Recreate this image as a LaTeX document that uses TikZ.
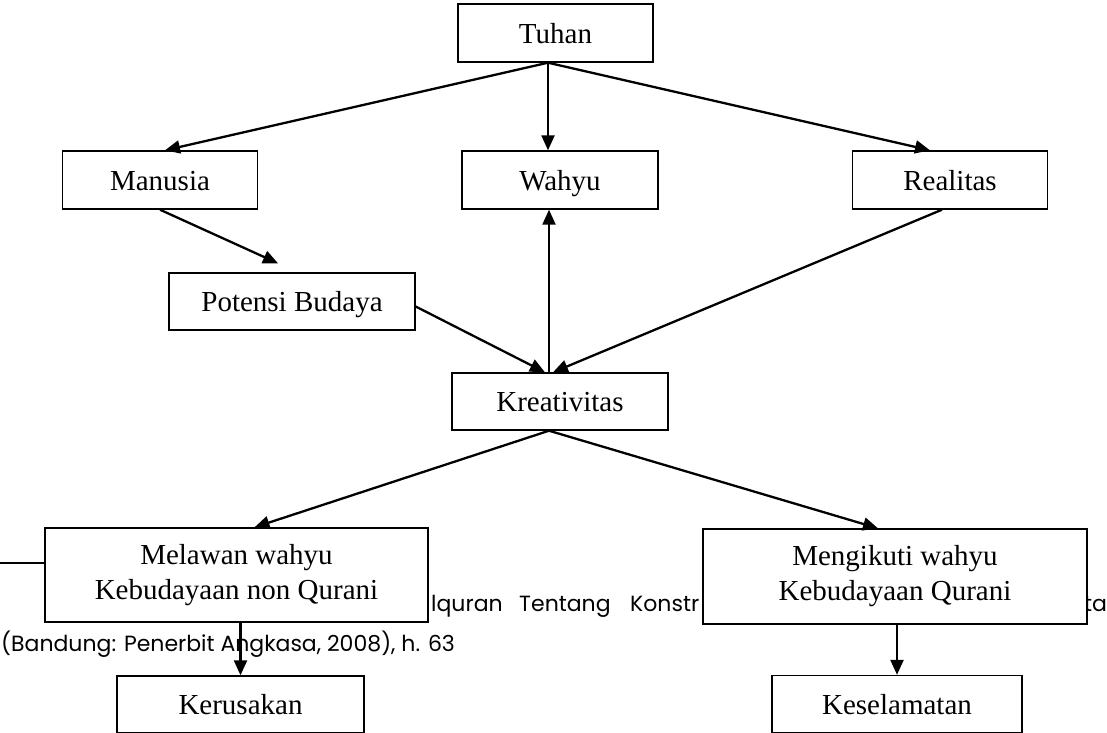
\documentclass[tikz,border=0pt]{standalone}
\usepackage{fontspec}
\setmainfont{Liberation Serif}
\newfontfamily\notefont{Poppins}
\usetikzlibrary{arrows.meta}
\begin{document}
\begin{tikzpicture}[x=1pt,y=-1pt,
  box/.style={draw,line width=1.4pt,fill=white,inner sep=0pt,align=center,
    font=\fontsize{29}{35}\selectfont},
  oneline/.style={box,text height=20pt,text depth=0pt},
  arr/.style={line width=2.3pt,-{Triangle[length=15pt,width=13pt]}},
  note/.style={font=\notefont\fontsize{22}{26}\selectfont,inner sep=0pt}]
\useasboundingbox (0,0) rectangle (1107,732);
\clip (0,0) rectangle (1107,732);

% footnote lying underneath the lower boxes
\draw[line width=1.2pt] (0,563) -- (46,563);
\node[note,anchor=base west] (n1) at (431,611) {lquran};
\node[note,anchor=base west] (n2) at (519,611) {Tentang};
\node[note,anchor=base west] (n3) at (630,611) {Konstr};
\node[note,anchor=base west] (n4) at (1084,611) {ta};
\node[note,anchor=base west] (n5) at (1,651) {(Bandung: Penerbit Angkasa, 2008), h. 63};

% boxes
\node[oneline,minimum width=195pt,minimum height=58pt] (tuhan) at (555.5,33) {Tuhan};
\node[oneline,minimum width=195pt,minimum height=58pt] (manusia) at (160,180) {Manusia};
\node[oneline,minimum width=196pt,minimum height=58pt] (wahyu) at (560,180) {Wahyu};
\node[oneline,minimum width=195pt,minimum height=58pt] (realitas) at (950,180) {Realitas};
\node[oneline,minimum width=246pt,minimum height=57pt] (potensi) at (292,301.5) {Potensi Budaya};
\node[oneline,minimum width=216pt,minimum height=57pt] (kreativitas) at (560,401.5) {Kreativitas};
\node[box,minimum width=383pt,minimum height=94pt] (melawan) at (236.5,575) {Melawan wahyu\\Kebudayaan non Qurani};
\node[box,minimum width=384pt,minimum height=95pt] (mengikuti) at (895,576.5) {Mengikuti wahyu\\Kebudayaan Qurani};
\node[oneline,minimum width=247pt,minimum height=57pt] (kerusakan) at (240.5,704.5) {Kerusakan};
\node[oneline,minimum width=250pt,minimum height=57pt] (keselamatan) at (897,704) {Keselamatan};

% connectors
\coordinate (top) at ([xshift=-7.5pt]tuhan.south);
\coordinate (kre) at ([xshift=-11pt]kreativitas.south);
\coordinate (pot) at ([shift={(-14pt,9pt)}]potensi.north);
\draw[arr] (top) -- ([xshift=5pt]manusia.north);
\draw[arr] (top) -- (top |- wahyu.north);
\draw[arr] (top) -- ([xshift=-20pt]realitas.north);
\draw[arr] (manusia.south) -- (pot);
\draw[arr] ([yshift=-5pt]potensi.east) -- ([xshift=-15pt]kreativitas.north);
\draw[arr] ([xshift=-8pt]realitas.south) -- ([xshift=-7pt]kreativitas.north);
\draw[arr] ([xshift=-11pt]kreativitas.north) -- ([xshift=-11pt]wahyu.south);
\draw[arr] (kre) -- ([xshift=18pt]melawan.north);
\draw[arr] (kre) -- ([xshift=-17pt]mengikuti.north);
\draw[arr] (melawan.south -| kerusakan.north) -- (kerusakan.north);
\draw[arr] (mengikuti.south -| keselamatan.north) -- (keselamatan.north);
\end{tikzpicture}
\end{document}
